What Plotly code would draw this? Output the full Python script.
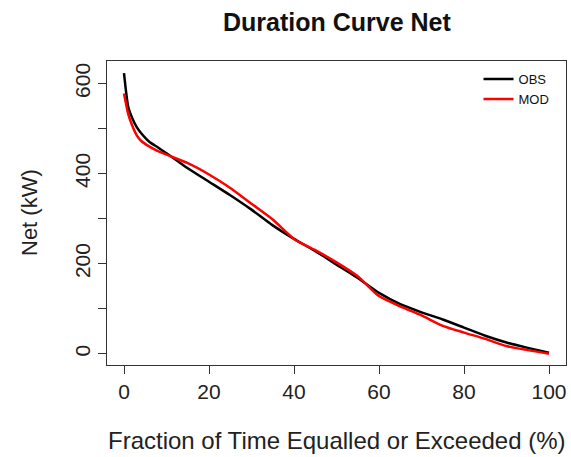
import plotly.graph_objects as go

# Exceedance percentages and net power duration curves (kW)
pct_obs = [0, 1, 2, 3, 4, 6, 8, 10, 12, 15, 20, 25, 30, 35, 40, 45, 50, 55, 60, 65, 70, 75, 80, 85, 90, 95, 100]
net_obs = [623, 548, 522, 503, 490, 470, 458, 445, 432, 412, 382, 352, 320, 285, 255, 228, 198, 168, 135, 110, 92, 76, 58, 40, 25, 13, 2]

pct_mod = [0, 1, 2, 3, 4, 6, 8, 10, 15, 20, 25, 30, 35, 40, 45, 50, 55, 60, 65, 70, 75, 80, 85, 90, 95, 100]
net_mod = [578, 532, 505, 485, 473, 460, 450, 442, 423, 398, 368, 333, 298, 255, 230, 203, 172, 128, 105, 85, 62, 47, 33, 17, 8, 0]

x_ticks = [0, 20, 40, 60, 80, 100]
y_ticks = [0, 100, 200, 300, 400, 500, 600]
y_tick_text = ["0", "", "200", "", "400", "", "600"]

FONT = "Liberation Sans, Arial, Helvetica, sans-serif"

fig = go.Figure()
fig.add_trace(go.Scatter(x=pct_obs, y=net_obs, mode="lines", name="OBS",
                         line=dict(color="black", width=2.5, shape="spline", smoothing=0.6)))
fig.add_trace(go.Scatter(x=pct_mod, y=net_mod, mode="lines", name="MOD",
                         line=dict(color="#ff0000", width=2.5, shape="spline", smoothing=0.6)))

axis_common = dict(showgrid=False, zeroline=False, showline=True, linecolor="#333333",
                   linewidth=1, mirror=True, ticks="outside", ticklen=8, tickwidth=1,
                   tickcolor="#333333", tickfont=dict(family=FONT, size=21, color="#222222"))

fig.update_layout(
    width=571, height=457,
    margin=dict(l=107, r=5, t=61, b=92),
    paper_bgcolor="white", plot_bgcolor="white",
    font=dict(family=FONT, color="#222222"),
    title=dict(text="<b>Duration Curve Net</b>", x=0.59, xanchor="center",
               y=1 - 22 / 457, yanchor="middle", yref="container",
               font=dict(family=FONT, size=25, color="#111111")),
    xaxis=dict(range=[-4, 104], tickvals=x_ticks, **axis_common),
    yaxis=dict(range=[-25, 650], tickvals=y_ticks, ticktext=y_tick_text,
               tickangle=-90, **axis_common),
    showlegend=True,
    legend=dict(x=0.975, y=0.99, xanchor="right", yanchor="top",
                bgcolor="rgba(0,0,0,0)", font=dict(family=FONT, size=13, color="#111111"),
                tracegroupgap=0, itemwidth=30),
    annotations=[
        dict(text="Fraction of Time Equalled or Exceeded (%)", xref="paper", yref="paper",
             x=0.5, y=0, xanchor="center", yanchor="middle", yshift=-75, showarrow=False,
             font=dict(family=FONT, size=24, color="#222222")),
        dict(text="Net (kW)", xref="paper", yref="paper", x=0, y=0.5,
             xanchor="center", yanchor="middle", xshift=-78, textangle=-90, showarrow=False,
             font=dict(family=FONT, size=22, color="#222222")),
    ],
)

fig.write_html("out.html")
